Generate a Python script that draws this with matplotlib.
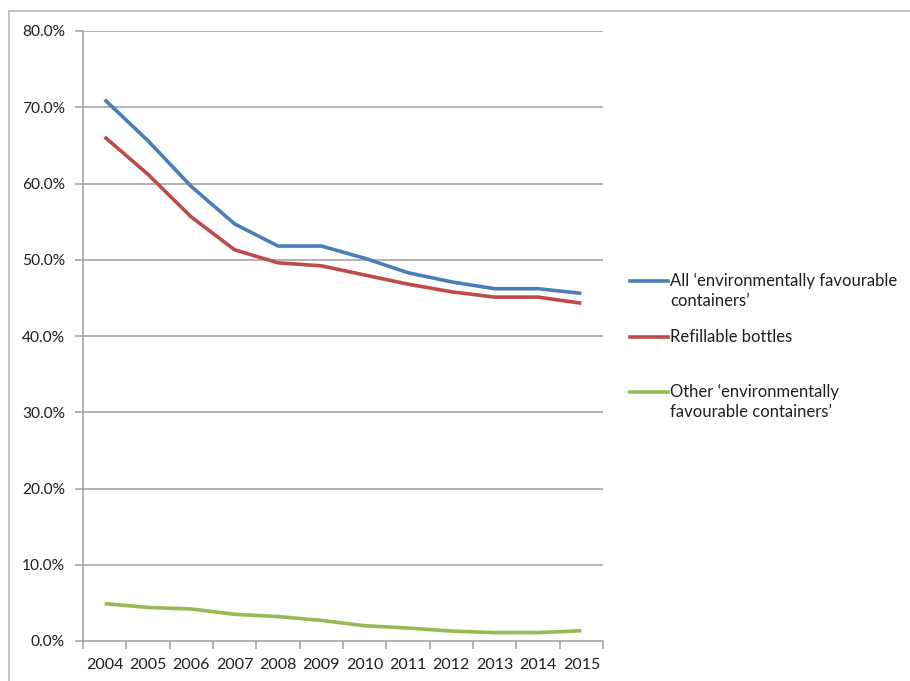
import matplotlib
matplotlib.use("Agg")
import matplotlib.pyplot as plt
from matplotlib.lines import Line2D

years = ["2004", "2005", "2006", "2007", "2008", "2009",
         "2010", "2011", "2012", "2013", "2014", "2015"]
all_efc = [71.0, 65.6, 59.6, 54.7, 51.8, 51.8, 50.2, 48.3, 47.1, 46.2, 46.2, 45.6]
refillable = [66.1, 61.2, 55.6, 51.3, 49.6, 49.2, 48.0, 46.8, 45.8, 45.1, 45.1, 44.3]
other_efc = [4.9, 4.4, 4.2, 3.5, 3.2, 2.7, 2.0, 1.7, 1.3, 1.1, 1.1, 1.35]

series_names = ["All \u2018environmentally favourable\ncontainers\u2019",
                "Refillable bottles",
                "Other \u2018environmentally\nfavourable containers\u2019"]
series_colors = ["#4a7ebb", "#be4b48", "#98b954"]
y_ticks = [0, 10, 20, 30, 40, 50, 60, 70, 80]

plt.rcParams["font.family"] = ["Lato", "DejaVu Sans"]

W, H = 910, 681
fig = plt.figure(figsize=(W / 100, H / 100), dpi=100)
fig.patch.set_facecolor("white")

# plot area in pixel coordinates
left, right, top, bottom = 83, 603, 31, 641
ax = fig.add_axes([left / W, 1 - bottom / H, (right - left) / W, (bottom - top) / H])

x = list(range(len(years)))
for vals, col in zip([all_efc, refillable, other_efc], series_colors):
    ax.plot(x, vals, color=col, lw=2.6, solid_capstyle="butt", solid_joinstyle="round")

ax.set_xlim(-0.5, len(years) - 0.5)
ax.set_ylim(0, 80)
ax.set_yticks(y_ticks)
ax.set_yticklabels([f"{v:.1f}%" for v in y_ticks])
ax.set_xticks(x)
ax.set_xticklabels(years)
ax.set_xticks([i - 0.5 for i in range(len(years) + 1)], minor=True)

grid_col = "#a6a6a6"
text_col = "#1f1f1f"
for v in y_ticks[1:]:
    ax.axhline(v, color=grid_col, lw=1.2, zorder=0)

for s in ["top", "right"]:
    ax.spines[s].set_visible(False)
for s in ["left", "bottom"]:
    ax.spines[s].set_color(grid_col)
    ax.spines[s].set_linewidth(1.2)

ax.tick_params(axis="y", direction="out", length=6, width=1.2, color=grid_col,
               labelsize=11.2, labelcolor=text_col, pad=7)
ax.tick_params(axis="x", which="major", length=0, labelsize=11.5,
               labelcolor=text_col, pad=12)
ax.tick_params(axis="x", which="minor", direction="out", length=6, width=1.2,
               color=grid_col)

# legend entries on the right
leg_y = [281, 337, 392]
for name, col, yy in zip(series_names, series_colors, leg_y):
    fig.add_artist(Line2D([630 / W, 668 / W], [1 - yy / H, 1 - yy / H],
                          color=col, lw=2.6, transform=fig.transFigure))
    fig.text(670 / W, 1 - (yy - 8) / H, name, ha="left", va="top",
             fontsize=12, color=text_col, linespacing=1.3)

# outer frame (top and left edges)
fig.add_artist(Line2D([9 / W, 1.0], [1 - 11 / H, 1 - 11 / H], color="#bfbfbf",
                      lw=1.3, transform=fig.transFigure))
fig.add_artist(Line2D([9 / W, 9 / W], [0, 1 - 11 / H], color="#bfbfbf",
                      lw=1.3, transform=fig.transFigure))

fig.savefig("out.png", dpi=100, facecolor="white")
